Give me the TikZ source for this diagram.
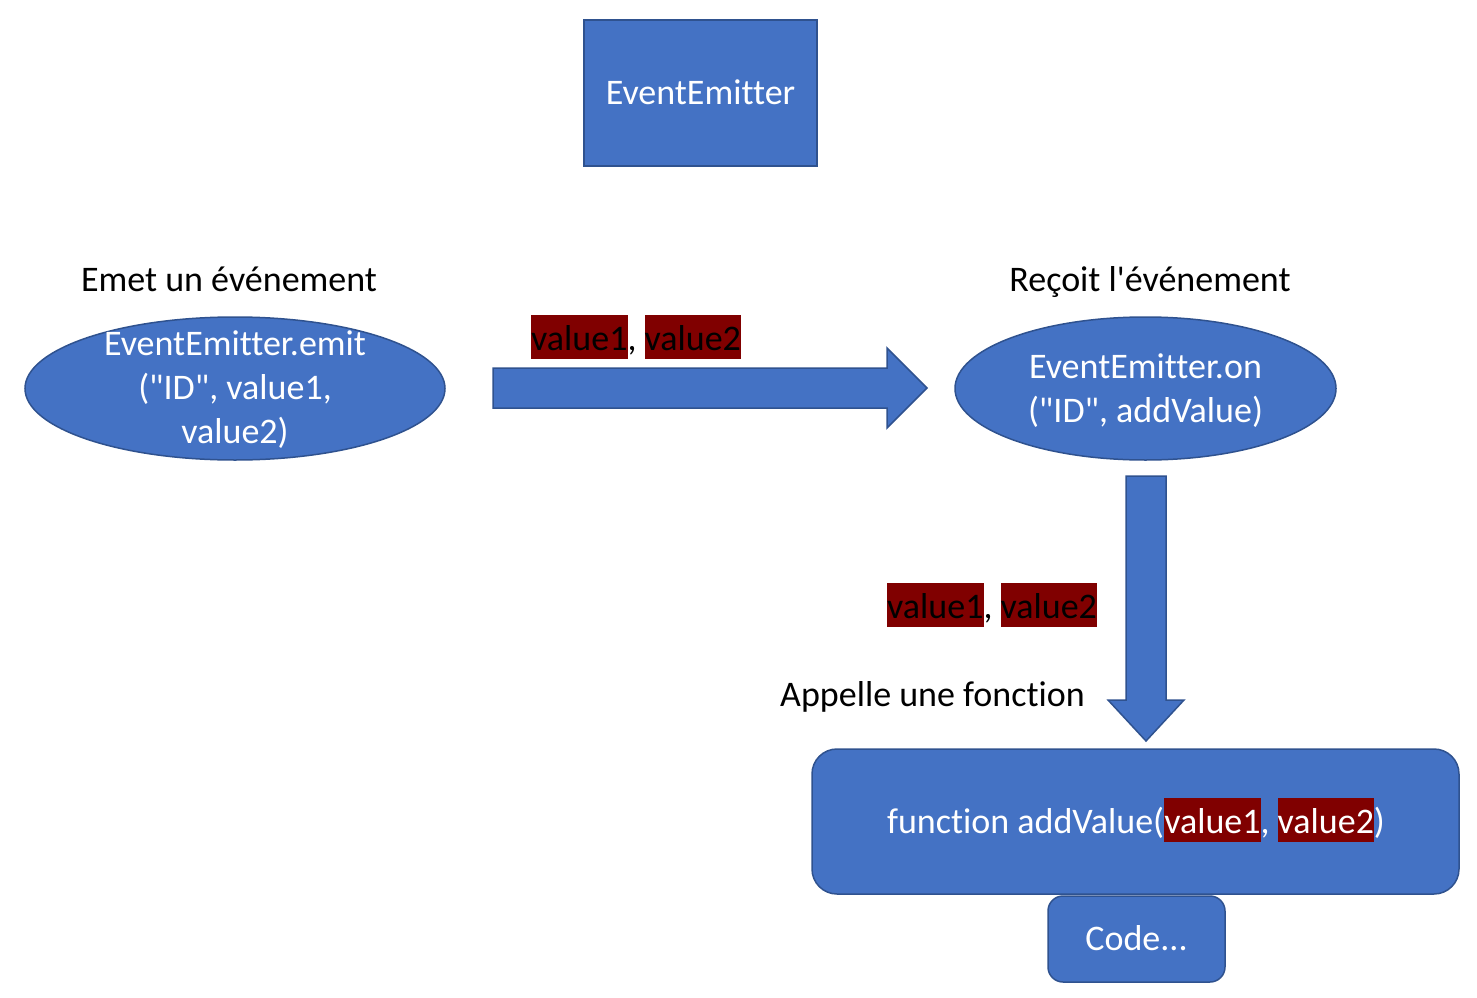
\documentclass[tikz,border=0pt]{standalone}
\usepackage{fontspec}
\newfontfamily\calib{Carlito}[Ligatures={NoCommon}]
\usetikzlibrary{shapes.geometric}
\definecolor{shapefill}{HTML}{4472C4}
\definecolor{shapeline}{HTML}{2F528F}
\definecolor{hl}{HTML}{800000}
\newcommand{\hlbox}[1]{{\setlength{\fboxsep}{0pt}\colorbox{hl}{\rule[-9pt]{0pt}{44pt}#1}}}
\tikzset{
  x=1pt, y=-1pt,
  txt/.style={font=\calib\fontsize{36}{44}\selectfont, inner sep=0pt, align=center},
  wtxt/.style={txt, text=white},
  shapebox/.style={fill=shapefill, draw=shapeline, line width=1.5pt},
  ell/.style={shapebox, ellipse, inner sep=0pt},
}
\begin{document}
\begin{tikzpicture}
\useasboundingbox (0,0) rectangle (1477,998);

% EventEmitter box
\node[shapebox, minimum width=233pt, minimum height=146pt, inner sep=0pt] (ee) at (700.5,93) {};
\node[wtxt] (eet) at (700.5,92) {EventEmitter};

% left ellipse
\node[txt, anchor=base] (emitlbl) at (229,291) {Emet un événement};
\node[ell, minimum width=420pt, minimum height=143pt] (emit) at (235,388.5) {};
\node[wtxt] (emitt) at (235,390) {EventEmitter.emit\\("ID", value1,\\value2)};

% right ellipse
\node[txt, anchor=base] (onlbl) at (1150,291) {Reçoit l'événement};
\node[ell, minimum width=381pt, minimum height=143pt] (on) at (1145.5,388.5) {};
\node[wtxt] (ont) at (1145.5,391) {EventEmitter.on\\("ID", addValue)};

% right arrow
\coordinate (ra0) at (493,388);
\coordinate (ra1) at (927,388);
\fill[shapefill, draw=shapeline, line width=1.5pt]
  ([yshift=-20pt]ra0) -- ([xshift=-40pt,yshift=-20pt]ra1) -- ([xshift=-40pt,yshift=-40pt]ra1)
  -- (ra1) -- ([xshift=-40pt,yshift=40pt]ra1) -- ([xshift=-40pt,yshift=20pt]ra1)
  -- ([yshift=20pt]ra0) -- cycle;
\node[txt, anchor=base west] (v1) at (531,350) {\hlbox{value1}, \hlbox{value2}};

% down arrow
\coordinate (da0) at (1146,476);
\coordinate (da1) at (1146,741);
\fill[shapefill, draw=shapeline, line width=1.5pt]
  ([xshift=-20pt]da0) -- ([xshift=-20pt,yshift=41pt]da1) -- ([xshift=-38pt,yshift=41pt]da1)
  -- (da1) -- ([xshift=38pt,yshift=41pt]da1) -- ([xshift=20pt,yshift=41pt]da1)
  -- ([xshift=20pt]da0) -- cycle;
\node[txt, anchor=base west] (v2) at (887,618) {\hlbox{value1}, \hlbox{value2}};
\node[txt, anchor=base west] (calllbl) at (780,706) {Appelle une fonction};

% function box
\node[shapebox, rounded corners=25pt, minimum width=647pt, minimum height=145pt, inner sep=0pt] (fn) at (1135.5,821.5) {};
\node[wtxt, anchor=base] (fnt) at (1136,833) {function addValue(\hlbox{value1}, \hlbox{value2})};

% code box
\node[shapebox, rounded corners=15pt, minimum width=177pt, minimum height=86pt, inner sep=0pt] (code) at (1136.5,939) {};
\node[wtxt] (codet) at (1136.5,938) {Code...};
\end{tikzpicture}
\end{document}
